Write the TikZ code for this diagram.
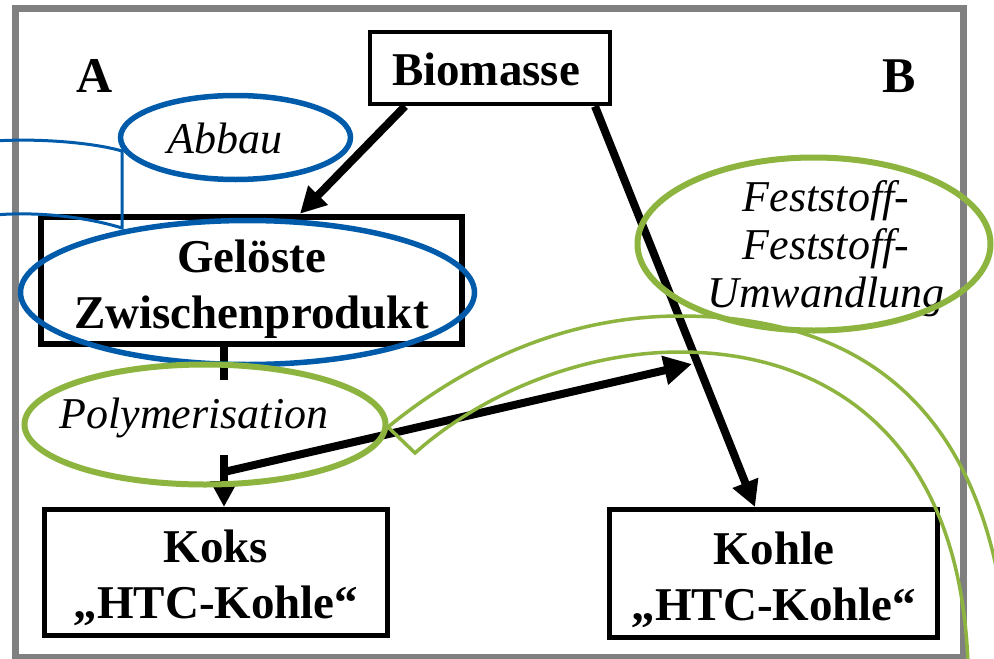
\documentclass[tikz,border=0pt]{standalone}
\usepackage{fontspec}
\setmainfont{Liberation Serif}
\usetikzlibrary{arrows.meta,calc}
\definecolor{frameGray}{RGB}{128,128,128}
\definecolor{calBlue}{RGB}{0,91,170}
\definecolor{calGreen}{RGB}{141,180,62}
\begin{document}
\begin{tikzpicture}[x=1pt,y=-1pt,
  boxnode/.style={draw=black, rectangle, inner sep=0pt},
  bigtext/.style={font=\fontsize{47}{56}\selectfont\bfseries, align=center, inner sep=0pt},
  ittext/.style={font=\fontsize{44}{48}\selectfont\itshape, align=center, inner sep=0pt},
  flow/.style={line width=8pt, -{Triangle[length=26pt,width=26pt]}},
  thickblue/.style={draw=calBlue, line width=5.5pt},
  thickgreen/.style={draw=calGreen, line width=6pt},
  thinblue/.style={draw=calBlue, line width=3pt},
  thingreen/.style={draw=calGreen, line width=3.5pt},
]
\useasboundingbox (0,0) rectangle (994,659);
\fill[white] (0,0) rectangle (994,659);
\draw[frameGray, line width=7pt] (15.5,8.5) rectangle (963.5,657.5);

% boxes
\node[boxnode, line width=4.5pt, minimum width=240pt, minimum height=72pt] (bio) at (490,68) {};
\node[boxnode, line width=6.5pt, minimum width=421pt, minimum height=127pt] (gel) at (251.5,280.5) {};
\node[boxnode, line width=5pt, minimum width=343pt, minimum height=126pt] (koks) at (216,572.5) {};
\node[boxnode, line width=5pt, minimum width=328pt, minimum height=128pt] (kohle) at (773.5,573.5) {};

% box texts
\node[bigtext, anchor=base] (biot) at (486,85) {Biomasse};
\node[bigtext] (gelt) at (251.5,289) {Gelöste\\Zwischenprodukt};
\node[bigtext] (kokst) at (216,578) {Koks\\„HTC-Kohle“};
\node[bigtext] (kohlet) at (774,580) {Kohle\\„HTC-Kohle“};
\node[font=\fontsize{50}{60}\selectfont\bfseries, anchor=base, inner sep=0pt] (la) at (95,92) {A};
\node[font=\fontsize{50}{60}\selectfont\bfseries, anchor=base, inner sep=0pt] (lb) at (899,92) {B};

% connectors
\draw[flow] ([xshift=-85pt]bio.south) -- ([xshift=48.5pt]gel.north);
\draw[flow] ([xshift=105pt]bio.south) -- ([xshift=-18.5pt]kohle.north);
\draw[flow] ([xshift=-27.5pt]gel.south) -- ([xshift=8pt]koks.north);

\node[ittext, fill=white, anchor=base, text height=48pt, text depth=27pt, inner xsep=4pt] (polyt) at (194,428) {Polymerisation};

\coordinate (j) at (224,472);
\coordinate (k) at (692,364);
\draw[line width=8pt, -{Triangle[length=28pt,width=28pt]}] (j) -- (k);

% labels
\node[ittext, anchor=base] (abt) at (225,153) {Abbau};
\node[ittext] (fft) at (826,249) {Feststoff-\\Feststoff-\\Umwandlung};

% ellipses
\draw[thickblue] (235.5,137.5) ellipse [x radius=115pt, y radius=42pt];
\draw[thickblue] (247.5,292.5) ellipse [x radius=227pt, y radius=72pt];
\draw[thickgreen] (205,424.5) ellipse [x radius=180.5pt, y radius=60pt];
\draw[thickgreen] (814,244) ellipse [x radius=176.5pt, y radius=86.5pt];

% callouts
\draw[thinblue] (-5,141) .. controls (40,138) and (95,143) .. (122,151) -- (122,228) .. controls (90,218) and (40,211) .. (-5,215);
\coordinate (go1) at (388,427);
\coordinate (gtop) at (680,316);
\coordinate (go2) at (1005,620);
\coordinate (gv) at (415,453);
\coordinate (gitop) at (680,352);
\coordinate (gi2) at (968,665);
\draw[thingreen] (go1) .. controls (470,360) and (570,316) .. (gtop) .. controls (820,316) and (975,370) .. (go2);
\draw[thingreen, line join=miter] (go1) -- (gv) .. controls (480,395) and (580,352) .. (gitop) .. controls (820,352) and (960,430) .. (gi2);
\end{tikzpicture}
\end{document}
